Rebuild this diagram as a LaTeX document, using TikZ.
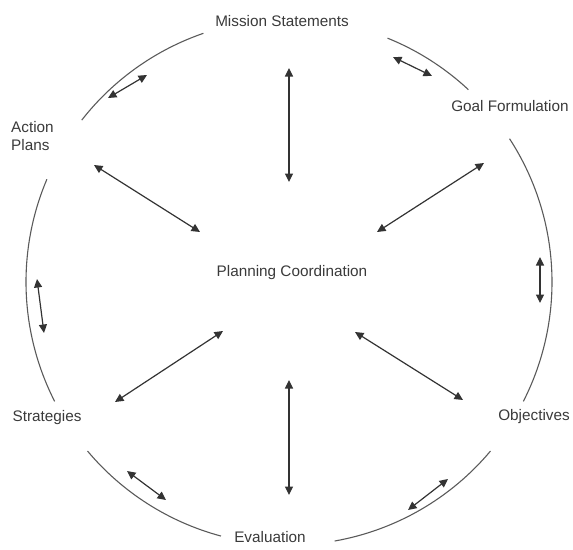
\documentclass[tikz,border=0pt]{standalone}
\usepackage{fontspec}
\setmainfont{Liberation Sans}
\usetikzlibrary{arrows.meta,graphs}
\definecolor{cT}{HTML}{3a3a3a}
\definecolor{cR}{HTML}{5a5a5a}
\definecolor{cL}{HTML}{333333}
\tikzset{
  stage/.style={font=\fontsize{15.3}{18}\selectfont,text=cT,inner sep=0pt,align=center},
  rim/.style={cR,line width=1.1pt},
  link/.style={>={Triangle[length=8.5pt,width=8pt]},line width=1.2pt,cL},
}

\begin{document}
\begin{tikzpicture}[x=1pt,y=1pt]
  \useasboundingbox (0,0) rectangle (573,-549);
  \coordinate (ctr) at (289,-282);

  % stages round the cycle
  \node[stage] (ms) at (282,-21) {Mission Statements};
  \node[stage] (gf) at (510,-106) {Goal Formulation};
  \node[stage,align=left,anchor=north west] (ap) at (11,-121) {Action\\Plans};
  \node[stage] (pc) at (292,-273) {Planning Coordination};
  \node[stage] (st) at (47,-418) {Strategies};
  \node[stage] (ob) at (534,-417) {Objectives};
  \node[stage] (ev) at (270,-537) {Evaluation};

  % rim of the cycle
  \foreach \a/\b in {109/142,47/68,-27/33,-80/-40,220/255,157/207}
    \draw[rim] (ctr) ++(\a:263) arc[start angle=\a,end angle=\b,radius=263];

  % spokes
  \coordinate (msA) at (289,-68);  \coordinate (msB) at (289,-182);
  \coordinate (evA) at (289,-495); \coordinate (evB) at (289,-380);
  \coordinate (apA) at (94,-165);  \coordinate (apB) at (200,-232);
  \coordinate (gfA) at (484,-163); \coordinate (gfB) at (377,-232);
  \coordinate (obA) at (463,-400); \coordinate (obB) at (355,-332);
  \coordinate (stA) at (115,-402); \coordinate (stB) at (223,-331);

  % along the rim
  \coordinate (r1a) at (108,-98);  \coordinate (r1b) at (147,-75);
  \coordinate (r2a) at (393,-57);  \coordinate (r2b) at (432,-76);
  \coordinate (r3a) at (540,-257); \coordinate (r3b) at (540,-303);
  \coordinate (r4a) at (448,-479); \coordinate (r4b) at (408,-510);
  \coordinate (r5a) at (166,-500); \coordinate (r5b) at (127,-471);
  \coordinate (r6a) at (44,-333);  \coordinate (r6b) at (37,-279);

  \graph[use existing nodes,edges={link}]{
    msA <-> msB; evA <-> evB; apA <-> apB;
    gfA <-> gfB; obA <-> obB; stA <-> stB;
    r1a <-> r1b; r2a <-> r2b; r3a <-> r3b;
    r4a <-> r4b; r5a <-> r5b; r6a <-> r6b;
  };
\end{tikzpicture}
\end{document}
